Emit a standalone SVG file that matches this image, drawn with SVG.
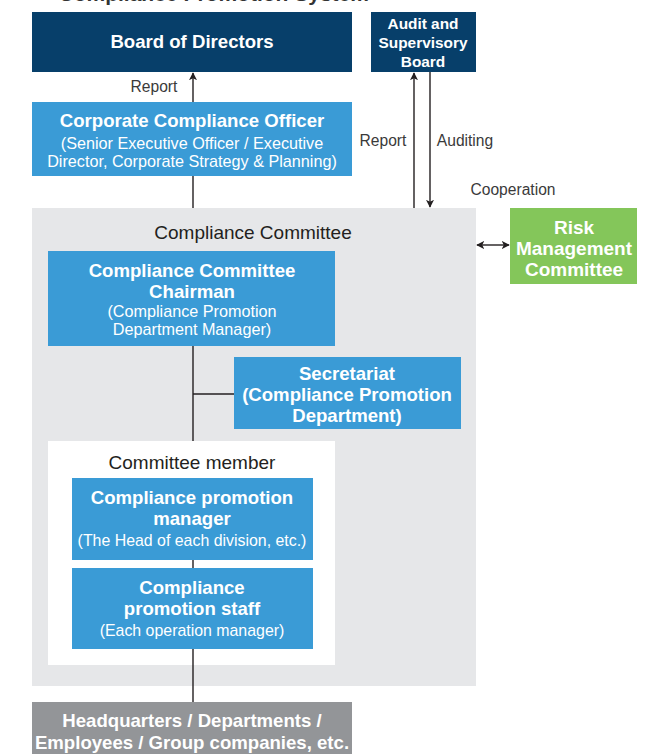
<svg xmlns="http://www.w3.org/2000/svg" width="669" height="754" viewBox="0 0 669 754">
<defs>
<style>
.t{font-family:"Liberation Sans",Arial,sans-serif;text-anchor:middle}
.w{fill:#ffffff}
.b{font-weight:bold;font-size:18.6px}
.s{font-size:16.2px}
.lbl{font-family:"Liberation Sans",Arial,sans-serif;font-size:15.6px;fill:#3a3a3a}
.ln{stroke:#231f20;stroke-width:1.4;fill:none}
</style>
<marker id="ah" viewBox="0 0 10 10" refX="9" refY="5" markerWidth="8" markerHeight="8" markerUnits="userSpaceOnUse" orient="auto-start-reverse">
<path d="M0,0 L10,5 L0,10 L2.5,5 Z" fill="#231f20"/>
</marker>
</defs>
<rect width="669" height="754" fill="#ffffff"/>
<text x="40" y="1" font-family="Liberation Sans,Arial,sans-serif" font-weight="bold" font-size="21" fill="#333">■ Compliance Promotion System</text>

<g id="container-committee">
<rect x="32" y="208" width="444" height="478" fill="#e6e7e9"/>
<text class="t" x="253" y="239" font-size="19" fill="#231f20">Compliance Committee</text>
</g>
<g id="container-members">
<rect x="48" y="441" width="287" height="224" fill="#ffffff"/>
<text class="t" x="192" y="469" font-size="19" fill="#231f20">Committee member</text>
</g>

<g id="connectors">
<line class="ln" x1="193" y1="102" x2="193" y2="73" marker-end="url(#ah)"/>
<line class="ln" x1="193" y1="176" x2="193" y2="208"/>
<line class="ln" x1="414" y1="208" x2="414" y2="73" marker-end="url(#ah)"/>
<line class="ln" x1="430" y1="72" x2="430" y2="207" marker-end="url(#ah)"/>
<line class="ln" x1="477" y1="245" x2="509" y2="245" marker-start="url(#ah)" marker-end="url(#ah)"/>
<line class="ln" x1="193" y1="346" x2="193" y2="441"/>
<line class="ln" x1="193" y1="394" x2="234" y2="394"/>
<line class="ln" x1="193" y1="560" x2="193" y2="568"/>
<line class="ln" x1="193" y1="649" x2="193" y2="702"/>
<text class="lbl" x="154" y="92" text-anchor="middle">Report</text>
<text class="lbl" x="383" y="146" text-anchor="middle">Report</text>
<text class="lbl" x="465" y="146" text-anchor="middle">Auditing</text>
<text class="lbl" x="513" y="195" text-anchor="middle">Cooperation</text>
</g>

<g id="board">
<rect x="32" y="12" width="320" height="60" fill="#073f6a"/>
<text class="t w b" x="192" y="48">Board of Directors</text>
</g>
<g id="audit">
<rect x="371" y="12" width="105" height="60" fill="#073f6a"/>
<text class="t w" font-weight="bold" font-size="15.4"><tspan x="423" y="29">Audit and</tspan><tspan x="423" y="48">Supervisory</tspan><tspan x="423" y="67">Board</tspan></text>
</g>
<g id="cco">
<rect x="32" y="102" width="320" height="74" fill="#3a9bd6"/>
<text class="t w b" x="192" y="127">Corporate Compliance Officer</text>
<text class="t w s"><tspan x="192" y="149">(Senior Executive Officer / Executive</tspan><tspan x="192" y="167">Director, Corporate Strategy &amp; Planning)</tspan></text>
</g>
<g id="risk">
<rect x="510" y="208" width="127" height="76" fill="#84c65a"/>
<text class="t w" font-weight="bold" font-size="19"><tspan x="574" y="234">Risk</tspan><tspan x="574" y="255">Management</tspan><tspan x="574" y="276">Committee</tspan></text>
</g>
<g id="chairman">
<rect x="48" y="251" width="287" height="95" fill="#3a9bd6"/>
<text class="t w b"><tspan x="192" y="277">Compliance Committee</tspan><tspan x="192" y="298">Chairman</tspan></text>
<text class="t w s"><tspan x="192" y="317">(Compliance Promotion</tspan><tspan x="192" y="335">Department Manager)</tspan></text>
</g>
<g id="secretariat">
<rect x="234" y="357" width="227" height="72" fill="#3a9bd6"/>
<text class="t w b"><tspan x="347" y="380">Secretariat</tspan><tspan x="347" y="401">(Compliance Promotion</tspan><tspan x="347" y="422">Department)</tspan></text>
</g>
<g id="manager">
<rect x="72" y="478" width="241" height="82" fill="#3a9bd6"/>
<text class="t w b"><tspan x="192" y="504">Compliance promotion</tspan><tspan x="192" y="525">manager</tspan></text>
<text class="t w" font-size="15.9" x="192" y="546">(The Head of each division, etc.)</text>
</g>
<g id="staff">
<rect x="72" y="568" width="241" height="81" fill="#3a9bd6"/>
<text class="t w b"><tspan x="192" y="594">Compliance</tspan><tspan x="192" y="615">promotion staff</tspan></text>
<text class="t w" font-size="15.9" x="192" y="636">(Each operation manager)</text>
</g>
<g id="headquarters">
<rect x="32" y="702" width="320" height="52" fill="#939598"/>
<text class="t w b"><tspan x="192" y="727">Headquarters / Departments /</tspan><tspan x="192" y="749">Employees / Group companies, etc.</tspan></text>
</g>
</svg>
